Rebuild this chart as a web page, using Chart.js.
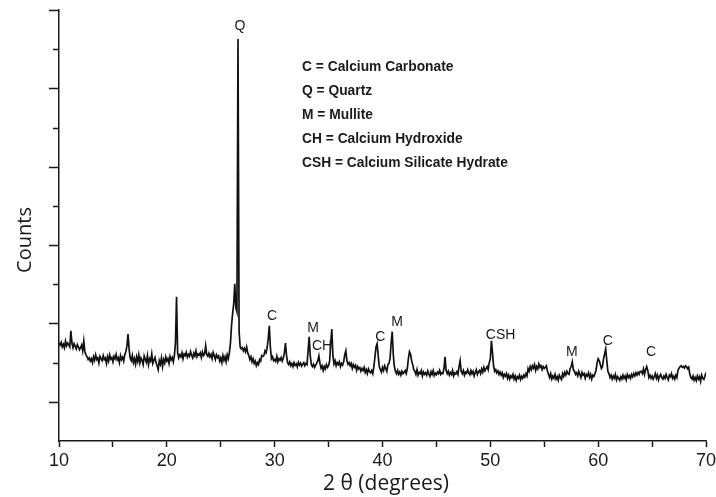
<!DOCTYPE html>
<html>
<head>
<meta charset="utf-8">
<script src="https://cdn.jsdelivr.net/npm/chart.js@4.4.1/dist/chart.umd.min.js"></script>
<style>
body { margin: 0; background: #fff; }
canvas { display: block; }
</style>
</head>
<body>
<canvas id="xrdChart" width="716" height="497"></canvas>
<script>
// 2 theta grid of the scan (degrees)
const angleStart = 10;
const angleStep = 0.1;

// counts, one row per degree (x.0 ... x.9)
const counts = [
    150, 145, 152, 140, 147, 138, 155, 143, 150, 146, // 10
    140, 181, 150, 138, 148, 142, 135, 146, 140, 133, // 11
    138, 145, 130, 155, 128, 120, 115, 108, 112, 104, // 12
    110, 100, 115, 106, 120, 108, 112, 99, 116, 110,  // 13
    105, 118, 108, 112, 98, 115, 104, 120, 109, 113,  // 14
    102, 116, 110, 121, 107, 112, 100, 118, 108, 114, // 15
    104, 120, 128, 142, 173, 135, 112, 105, 118, 100, // 16
    110, 96, 115, 103, 120, 99, 112, 106, 95, 117,    // 17
    108, 101, 118, 95, 110, 104, 122, 98, 106, 113,   // 18
    100, 92, 82, 105, 96, 112, 90, 108, 99, 115,      // 19
    104, 110, 98, 116, 107, 113, 102, 118, 150, 268,  // 20
    125, 112, 120, 115, 125, 110, 122, 118, 126, 114, // 21
    121, 116, 128, 119, 112, 124, 117, 130, 115, 122, // 22
    119, 125, 113, 127, 118, 122, 143, 120, 116, 124, // 23
    115, 121, 110, 126, 118, 108, 120, 113, 117, 104, // 24
    112, 100, 118, 106, 115, 102, 120, 110, 125, 150, // 25
    195, 225, 250, 301, 240, 230, 926, 180, 140, 135, // 26
    138, 130, 136, 128, 140, 125, 118, 108, 115, 102, // 27
    110, 98, 104, 92, 100, 95, 108, 104, 118, 116,    // 28
    118, 130, 125, 138, 160, 194, 140, 110, 115, 105, // 29
    108, 103, 116, 102, 110, 106, 113, 104, 112, 125, // 30
    150, 118, 100, 95, 102, 92, 98, 90, 100, 93,      // 31
    97, 89, 101, 94, 99, 91, 96, 100, 92, 98,         // 32
    95, 130, 166, 118, 95, 90, 96, 88, 93, 99,        // 33
    105, 117, 98, 86, 92, 80, 90, 84, 95, 88,         // 34
    92, 105, 150, 186, 118, 97, 105, 92, 100, 95,     // 35
    102, 90, 98, 94, 103, 120, 130, 105, 96, 100,     // 36
    92, 98, 85, 95, 88, 93, 80, 90, 84, 87,           // 37
    78, 85, 80, 88, 75, 82, 72, 84, 78, 74,           // 38
    80, 72, 90, 115, 140, 148, 118, 90, 82, 76,       // 39
    88, 80, 92, 85, 78, 95, 98, 110, 150, 179,        // 40
    120, 90, 78, 72, 80, 70, 76, 68, 78, 72,          // 41
    75, 80, 72, 85, 110, 128, 122, 105, 95, 82,       // 42
    78, 70, 82, 68, 75, 72, 80, 66, 76, 70,           // 43
    74, 68, 79, 71, 65, 77, 70, 80, 67, 73,           // 44
    69, 76, 72, 80, 70, 74, 72, 85, 115, 80,          // 45
    72, 78, 68, 75, 70, 80, 66, 74, 71, 77,           // 46
    70, 90, 105, 78, 72, 80, 68, 76, 73, 82,          // 47
    74, 69, 80, 72, 78, 66, 75, 82, 70, 77,           // 48
    80, 72, 84, 76, 88, 79, 85, 90, 82, 100,          // 49
    110, 156, 125, 92, 78, 82, 74, 79, 70, 76,        // 50
    68, 74, 62, 70, 65, 72, 60, 68, 58, 66,           // 51
    62, 70, 58, 66, 55, 64, 60, 68, 57, 65,           // 52
    60, 68, 63, 72, 66, 85, 78, 90, 82, 92,           // 53
    86, 95, 80, 90, 84, 97, 88, 92, 82, 90,           // 54
    85, 88, 92, 78, 70, 62, 72, 58, 66, 60,           // 55
    70, 58, 64, 55, 68, 62, 57, 72, 65, 75,           // 56
    68, 78, 72, 70, 85, 90, 102, 82, 78, 70,          // 57
    74, 66, 78, 70, 62, 75, 68, 72, 60, 70,           // 58
    66, 74, 62, 70, 58, 68, 65, 72, 80, 100,          // 59
    110, 105, 95, 85, 90, 110, 122, 135, 105, 78,     // 60
    72, 62, 68, 58, 66, 60, 70, 56, 64, 60,           // 61
    55, 64, 58, 68, 60, 66, 56, 70, 62, 67,           // 62
    60, 70, 64, 72, 66, 74, 68, 75, 70, 78,           // 63
    78, 72, 84, 70, 82, 90, 80, 62, 68, 60,           // 64
    66, 58, 64, 72, 60, 68, 56, 65, 70, 62,           // 65
    58, 66, 60, 70, 62, 56, 68, 64, 72, 60,           // 66
    65, 58, 68, 62, 80, 86, 90, 92, 88, 90,           // 67
    86, 92, 90, 84, 88, 70, 62, 58, 66, 55,           // 68
    62, 54, 66, 58, 64, 52, 68, 60, 57, 65,           // 69
    75                                                // 70
];

const yMajorTicks = [0, 200, 400, 600, 800, 1000];
const yMinorTicks = [100, 300, 500, 700, 900];

// phase labels over the peaks (2 theta, counts)
const peakLabels = ['Q', 'C', 'M', 'CH', 'C', 'M', 'CSH', 'M', 'C', 'C'];
const peakX = [26.78, 29.75, 33.56, 34.4, 39.8, 41.35, 50.95, 57.55, 60.9, 64.9];
const peakY = [959, 219, 189, 143, 166, 204, 171, 128, 156, 128];

const phaseKey = [
    'C = Calcium Carbonate',
    'Q = Quartz',
    'M = Mullite',
    'CH = Calcium Hydroxide',
    'CSH = Calcium Silicate Hydrate'
];

const inkColor = '#1a1a1a';

const decorPlugin = {
    id: 'decor',
    afterDraw(chart) {
        const ctx = chart.ctx;
        const xs = chart.scales.x;
        const ys = chart.scales.y;
        const area = chart.chartArea;

        ctx.save();
        ctx.strokeStyle = inkColor;
        ctx.lineWidth = 1.5;

        // y ticks, long and short
        ctx.beginPath();
        yMajorTicks.forEach(v => {
            const py = Math.round(ys.getPixelForValue(v)) + 0.5;
            ctx.moveTo(area.left - 10, py);
            ctx.lineTo(area.left, py);
        });
        yMinorTicks.forEach(v => {
            const py = Math.round(ys.getPixelForValue(v)) + 0.5;
            ctx.moveTo(area.left - 6, py);
            ctx.lineTo(area.left, py);
        });
        ctx.stroke();

        ctx.fillStyle = inkColor;
        ctx.textAlign = 'center';
        ctx.textBaseline = 'middle';

        // peak letters
        ctx.font = '14px "Liberation Sans", Arial, sans-serif';
        peakLabels.forEach((t, i) => {
            ctx.fillText(t, xs.getPixelForValue(peakX[i]), ys.getPixelForValue(peakY[i]));
        });

        // key
        ctx.font = 'bold 13.8px "Liberation Sans", Arial, sans-serif';
        ctx.textAlign = 'left';
        phaseKey.forEach((t, i) => {
            ctx.fillText(t, 302, 67 + i * 24);
        });

        // axis titles
        ctx.textAlign = 'center';
        ctx.font = '20px "Open Sans", sans-serif';
        ctx.save();
        ctx.translate(25, 240);
        ctx.rotate(-Math.PI / 2);
        ctx.fillText('Counts', 0, 0);
        ctx.restore();

        ctx.font = '21px "Open Sans", sans-serif';
        ctx.fillText('2 \u03b8 (degrees)', 386, 484);

        ctx.restore();
    }
};

const points = counts.map((c, i) => ({ x: angleStart + i * angleStep, y: c }));

const xrdChart = new Chart(document.getElementById('xrdChart'), {
    type: 'line',
    data: {
        datasets: [{
            data: points,
            borderColor: '#111',
            borderWidth: 1.7,
            pointRadius: 0,
            tension: 0,
            fill: false
        }]
    },
    options: {
        responsive: false,
        animation: false,
        layout: { padding: { left: 0, right: 10, top: 10, bottom: 0 } },
        plugins: {
            legend: { display: false },
            tooltip: { enabled: false }
        },
        scales: {
            x: {
                type: 'linear',
                min: 10,
                max: 70,
                afterFit: s => {
                    s.height = 56;
                    s.paddingLeft = 0;
                    s.paddingRight = 0;
                },
                ticks: {
                    stepSize: 5,
                    autoSkip: false,
                    maxRotation: 0,
                    padding: 3,
                    color: inkColor,
                    font: { family: '"Liberation Sans", Arial, sans-serif', size: 18 },
                    callback: v => (v % 10 === 0 ? v : '')
                },
                grid: { drawOnChartArea: false, tickLength: 6, tickColor: inkColor, tickWidth: 1.5 },
                border: { color: inkColor, width: 1.5 }
            },
            y: {
                min: -100,
                max: 1000,
                afterFit: s => { s.width = 59; },
                ticks: { display: false },
                grid: { display: false },
                border: { color: inkColor, width: 1.5 }
            }
        }
    },
    plugins: [decorPlugin]
});
</script>
</body>
</html>
